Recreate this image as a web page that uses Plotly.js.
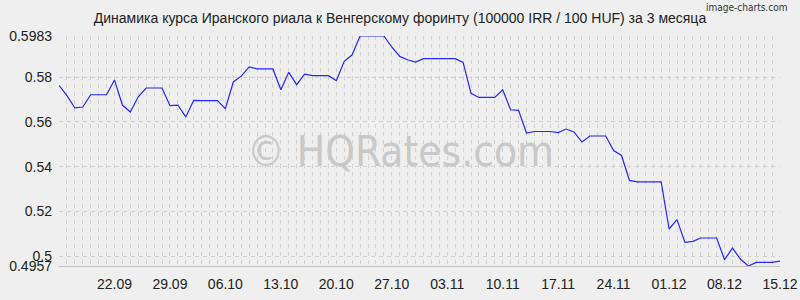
<!DOCTYPE html>
<html>
<head>
<meta charset="utf-8">
<script src="https://cdn.plot.ly/plotly-3.0.1.min.js"></script>
<style>html,body{margin:0;padding:0;background:#efefef;}#chart{width:800px;height:300px;}</style>
</head>
<body>
<div id="chart"></div>
<script>
var dates = [
"2025-09-15","2025-09-16","2025-09-17","2025-09-18","2025-09-19","2025-09-20","2025-09-21","2025-09-22","2025-09-23","2025-09-24",
"2025-09-25","2025-09-26","2025-09-27","2025-09-28","2025-09-29","2025-09-30","2025-10-01","2025-10-02","2025-10-03","2025-10-04",
"2025-10-05","2025-10-06","2025-10-07","2025-10-08","2025-10-09","2025-10-10","2025-10-11","2025-10-12","2025-10-13","2025-10-14",
"2025-10-15","2025-10-16","2025-10-17","2025-10-18","2025-10-19","2025-10-20","2025-10-21","2025-10-22","2025-10-23","2025-10-24",
"2025-10-25","2025-10-26","2025-10-27","2025-10-28","2025-10-29","2025-10-30","2025-10-31","2025-11-01","2025-11-02","2025-11-03",
"2025-11-04","2025-11-05","2025-11-06","2025-11-07","2025-11-08","2025-11-09","2025-11-10","2025-11-11","2025-11-12","2025-11-13",
"2025-11-14","2025-11-15","2025-11-16","2025-11-17","2025-11-18","2025-11-19","2025-11-20","2025-11-21","2025-11-22","2025-11-23",
"2025-11-24","2025-11-25","2025-11-26","2025-11-27","2025-11-28","2025-11-29","2025-11-30","2025-12-01","2025-12-02","2025-12-03",
"2025-12-04","2025-12-05","2025-12-06","2025-12-07","2025-12-08","2025-12-09","2025-12-10","2025-12-11","2025-12-12","2025-12-13",
"2025-12-14","2025-12-15"];

var rates = [
0.5763,0.5717,0.5662,0.5666,0.5721,0.5721,0.5721,0.5787,0.5675,0.5644,
0.5712,0.5751,0.5751,0.5751,0.5672,0.5675,0.5622,0.5696,0.5695,0.5695,
0.5695,0.5659,0.5778,0.5804,0.5845,0.5836,0.5836,0.5836,0.5743,0.5821,
0.5766,0.5813,0.5806,0.5806,0.5806,0.5784,0.5870,0.5899,0.5983,0.5983,
0.5983,0.5983,0.5934,0.5892,0.5877,0.5867,0.5882,0.5882,0.5882,0.5882,
0.5882,0.5865,0.5727,0.5709,0.5709,0.5709,0.5743,0.5654,0.5651,0.5550,
0.5557,0.5557,0.5557,0.5552,0.5568,0.5555,0.5510,0.5537,0.5537,0.5537,
0.5472,0.5450,0.5339,0.5332,0.5332,0.5332,0.5332,0.5122,0.5164,0.5062,
0.5067,0.5082,0.5082,0.5082,0.4985,0.5037,0.4988,0.4957,0.4973,0.4973,
0.4973,0.4979];

var xTickVals = ["2025-09-22","2025-09-29","2025-10-06","2025-10-13","2025-10-20","2025-10-27","2025-11-03","2025-11-10","2025-11-17","2025-11-24","2025-12-01","2025-12-08","2025-12-15"];
var xTickText = ["22.09","29.09","06.10","13.10","20.10","27.10","03.11","10.11","17.11","24.11","01.12","08.12","15.12"];
var yTickVals = [0.4957, 0.5, 0.52, 0.54, 0.56, 0.58, 0.5983];
var yTickText = ["0.4957","0.5","0.52","0.54","0.56","0.58","0.5983"];

var titleText = "Динамика курса Иранского риала к Венгерскому форинту (100000 IRR / 100 HUF) за 3 месяца";

var gridCol = "#d2d2d2";
var gridDash = "4px,4px";
var tickFont = {family: "Liberation Sans, Arial, sans-serif", size: 14, color: "#222"};

var trace = {
  x: dates, y: rates, type: "scatter", mode: "lines",
  line: {color: "#2626ff", width: 1.2},
  hoverinfo: "skip"
};

var layout = {
  width: 800, height: 300,
  paper_bgcolor: "#efefef", plot_bgcolor: "#efefef",
  margin: {l: 59, r: 20, t: 36, b: 34},
  showlegend: false,
  title: {text: titleText, x: 0.5, xanchor: "center", yref: "container", y: 0.94, yanchor: "middle",
          font: {family: "Liberation Sans, Arial, sans-serif", size: 14, color: "#222"}},
  xaxis: {
    type: "date", range: ["2025-09-15", "2025-12-15"],
    tickmode: "array", tickvals: xTickVals, ticktext: xTickText,
    tickfont: tickFont, ticks: "", ticklabelstandoff: 5,
    showgrid: true, gridcolor: gridCol, griddash: gridDash, gridwidth: 1,
    minor: {tick0: "2025-09-15", dtick: 86400000, showgrid: true, gridcolor: gridCol, griddash: gridDash, gridwidth: 1},
    showline: true, linecolor: "#c2c2c2", linewidth: 1,
    zeroline: false, fixedrange: true
  },
  yaxis: {
    range: [0.4957, 0.5983],
    tickmode: "array", tickvals: yTickVals, ticktext: yTickText,
    tickfont: tickFont, ticks: "", ticklabelstandoff: 6,
    showgrid: true, gridcolor: gridCol, griddash: gridDash, gridwidth: 1,
    showline: false, zeroline: false, fixedrange: true
  },
  annotations: [
    {text: "© HQRates.com", xref: "paper", yref: "paper", x: 0.473, y: 0.5, xanchor: "center", yanchor: "middle",
     showarrow: false, font: {family: "DejaVu Sans Condensed, Liberation Sans, sans-serif", size: 42, color: "#c9c9c9"}},
    {text: "image-charts.com", xref: "paper", yref: "paper", x: 1.012, y: 1.125, xanchor: "right", yanchor: "middle",
     showarrow: false, font: {family: "DejaVu Sans Condensed, Liberation Sans, sans-serif", size: 10, color: "#333"}}
  ]
};

Plotly.newPlot("chart", [trace], layout, {staticPlot: true, displayModeBar: false});
</script>
</body>
</html>
